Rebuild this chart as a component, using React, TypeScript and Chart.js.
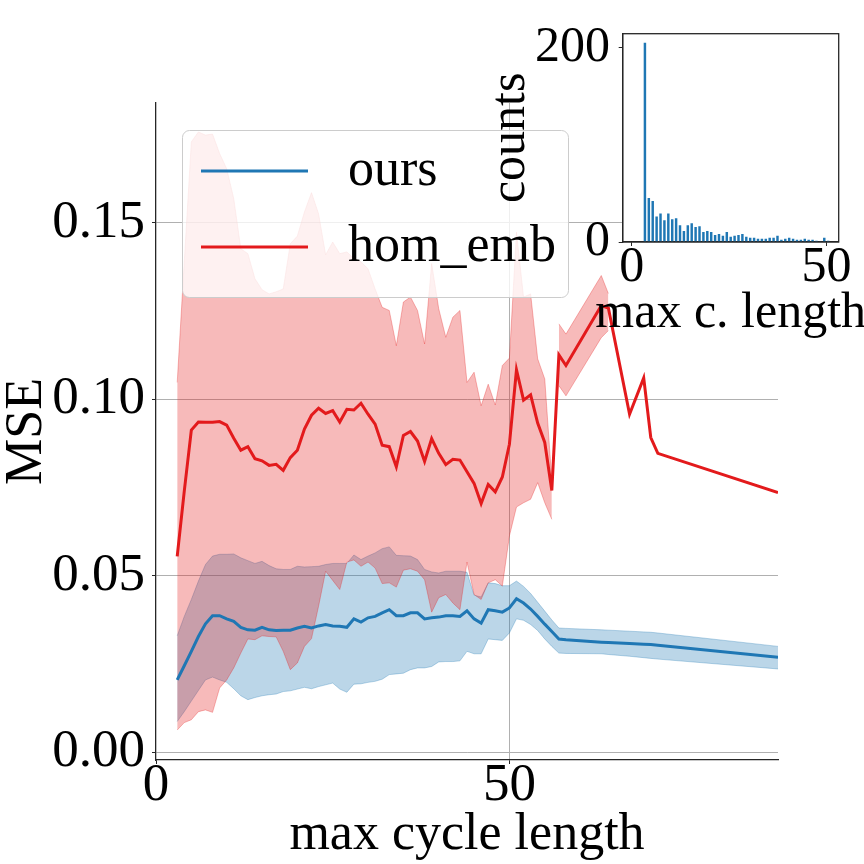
import { useEffect, useRef } from "react"
import { Chart, registerables } from "chart.js"

Chart.register(...registerables)

const FONT = "'Liberation Serif', 'Times New Roman', serif"

// main plot: x = max cycle length
const cycleLen = [
  3, 4, 5, 6, 7, 8, 9, 10, 11, 12, 13, 14, 15, 16, 17, 18, 19, 20, 21, 22,
  23, 24, 25, 26, 27, 28, 29, 30, 31, 32, 33, 34, 35, 36, 37, 38, 39, 40, 41, 42,
  43, 44, 45, 46, 47, 48, 49, 50, 51, 52, 53, 54, 55, 56, 57, 58, 63, 64, 67, 69,
  70, 71, 88,
]

const oursMean = [
  0.0205, 0.0245, 0.0286, 0.0328, 0.0364, 0.0387, 0.0387, 0.0378, 0.0371, 0.0354,
  0.0347, 0.0346, 0.0354, 0.0347, 0.0345, 0.0346, 0.0346, 0.0352, 0.0357, 0.0352,
  0.0358, 0.0362, 0.0358, 0.0357, 0.0354, 0.0378, 0.0369, 0.0381, 0.0385, 0.0395,
  0.0404, 0.0387, 0.0387, 0.0395, 0.0395, 0.0378, 0.0381, 0.0383, 0.0387, 0.0387,
  0.0385, 0.0401, 0.0378, 0.0366, 0.0404, 0.0401, 0.0397, 0.0409, 0.0435, 0.0423,
  0.0406, 0.0385, 0.0363, 0.0342, 0.0321, 0.0319,
  0.0312, 0.0311, 0.0308, 0.0306, 0.0305, 0.0303, 0.0269,
]
const oursUpper = [
  0.0330, 0.0385, 0.0433, 0.0485, 0.0532, 0.0556, 0.0561, 0.0561, 0.0562, 0.0551,
  0.0543, 0.0535, 0.0541, 0.0529, 0.0520, 0.0518, 0.0518, 0.0527, 0.0525, 0.0526,
  0.0527, 0.0532, 0.0535, 0.0535, 0.0535, 0.0559, 0.0546, 0.0556, 0.0565, 0.0577,
  0.0582, 0.0558, 0.0557, 0.0556, 0.0546, 0.0518, 0.0511, 0.0508, 0.0513, 0.0513,
  0.0513, 0.0510, 0.0445, 0.0440, 0.0480, 0.0478, 0.0472, 0.0472, 0.0485, 0.0470,
  0.0450, 0.0425, 0.0400, 0.0375, 0.0352, 0.0351,
  0.0347, 0.0346, 0.0343, 0.0341, 0.0340, 0.0338, 0.0300,
]
const oursLower = [
  0.0087, 0.0115, 0.0145, 0.0175, 0.0205, 0.0213, 0.0205, 0.0198, 0.0180, 0.0160,
  0.0149, 0.0155, 0.0160, 0.0163, 0.0165, 0.0172, 0.0174, 0.0179, 0.0184, 0.0180,
  0.0186, 0.0191, 0.0196, 0.0179, 0.0170, 0.0193, 0.0194, 0.0198, 0.0201, 0.0207,
  0.0220, 0.0222, 0.0224, 0.0234, 0.0239, 0.0239, 0.0243, 0.0256, 0.0257, 0.0257,
  0.0259, 0.0286, 0.0279, 0.0279, 0.0321, 0.0319, 0.0317, 0.0338, 0.0378, 0.0374,
  0.0362, 0.0345, 0.0321, 0.0300, 0.0281, 0.0280,
  0.0279, 0.0277, 0.0272, 0.0268, 0.0266, 0.0264, 0.0236,
]

const homMean = [
  0.0555, 0.0740, 0.0913, 0.0936, 0.0935, 0.0935, 0.0937, 0.0927, 0.0890, 0.0856,
  0.0866, 0.0832, 0.0826, 0.0813, 0.0816, 0.0799, 0.0835, 0.0856, 0.0916, 0.0955,
  0.0975, 0.0960, 0.0968, 0.0936, 0.0972, 0.0970, 0.0989, 0.0958, 0.0930, 0.0870,
  0.0866, 0.0809, 0.0898, 0.0909, 0.0882, 0.0824, 0.0889, 0.0847, 0.0815, 0.0830,
  0.0828, 0.0795, 0.0762, 0.0705, 0.0759, 0.0738, 0.0780, 0.0873, 0.1084, 0.0998,
  0.1013, 0.0933, 0.0878, 0.0742, 0.1126, 0.1096,
  0.1266, 0.1259, 0.0958, 0.1061, 0.0892, 0.0847, 0.0736,
]

// hom_emb band only exists up to 64, broken between 56 and 57
const homBandLen = [
  3, 4, 5, 6, 7, 8, 9, 10, 11, 12, 13, 14, 15, 16, 17, 18, 19, 20, 21, 22,
  23, 24, 25, 26, 27, 28, 29, 30, 31, 32, 33, 34, 35, 36, 37, 38, 39, 40, 41, 42,
  43, 44, 45, 46, 47, 48, 49, 50, 51, 52, 53, 54, 55, 56, 57, 58, 63, 64,
]
const homBandGapAfter = 56
const homUpper = [
  0.1048, 0.1390, 0.1730, 0.1758, 0.1749, 0.1752, 0.1697, 0.1654, 0.1569, 0.1427,
  0.1413, 0.1342, 0.1311, 0.1299, 0.1305, 0.1313, 0.1441, 0.1463, 0.1531, 0.1586,
  0.1526, 0.1410, 0.1446, 0.1413, 0.1418, 0.1399, 0.1390, 0.1370, 0.1313, 0.1261,
  0.1252, 0.1152, 0.1276, 0.1290, 0.1252, 0.1157, 0.1385, 0.1257, 0.1176, 0.1233,
  0.1252, 0.1048, 0.1077, 0.0982, 0.1043, 0.0984, 0.1096, 0.1117, 0.1474, 0.1290,
  0.1299, 0.1115, 0.1058, 0.0770, 0.1214, 0.1185,
  0.1351, 0.1300,
]
const homLower = [
  0.0063, 0.0084, 0.0092, 0.0115, 0.0120, 0.0113, 0.0182, 0.0205, 0.0239, 0.0281,
  0.0321, 0.0319, 0.0330, 0.0328, 0.0327, 0.0286, 0.0234, 0.0253, 0.0300, 0.0322,
  0.0414, 0.0513, 0.0487, 0.0461, 0.0539, 0.0545, 0.0527, 0.0539, 0.0522, 0.0478,
  0.0480, 0.0468, 0.0516, 0.0520, 0.0513, 0.0489, 0.0397, 0.0438, 0.0447, 0.0423,
  0.0404, 0.0539, 0.0447, 0.0433, 0.0480, 0.0489, 0.0471, 0.0613, 0.0695, 0.0707,
  0.0717, 0.0764, 0.0707, 0.0660, 0.1039, 0.1010,
  0.1175, 0.1195,
]

const xTicks = [0, 50]
const yTicks = [0, 0.05, 0.1, 0.15]

// inset histogram
const histLen = [
  3, 4, 5, 6, 7, 8, 9, 10, 11, 12, 13, 14, 15, 16, 17, 18, 19, 20, 21, 22,
  23, 24, 25, 26, 27, 28, 29, 30, 31, 32, 33, 34, 35, 36, 37, 38, 39, 40, 41, 42,
  43, 44, 45, 46, 47, 48, 49, 50,
]
const histCount = [
  205, 45, 42, 26, 29, 22, 29, 23, 24, 17, 11, 17, 19, 15, 16, 10, 11, 10, 7, 8,
  6, 10, 5, 6, 7, 8, 5, 4, 4, 3, 3, 3, 4, 4, 6, 2, 3, 4, 3, 2,
  2, 3, 2, 2, 1, 0, 4, 1,
]
const histXTicks = [0, 50]
const histYTicks = [0, 200]
const histXLabel = "max c. length"

const BLUE = "#1f77b4"
const RED = "#e31a1c"
const BLUE_BAND = "rgba(31,119,180,0.3)"
const RED_BAND = "rgba(227,26,28,0.3)"
const AXIS = "#262626"

const pts = (xs: number[], ys: number[], gapAfter?: number) => {
  const out: { x: number; y: number | null }[] = []
  xs.forEach((x, i) => {
    out.push({ x, y: ys[i] })
    if (x === gapAfter) out.push({ x: x + 0.5, y: null })
  })
  return out
}

const boxLegend = {
  id: "boxLegend",
  afterDraw(chart: any) {
    const ctx = chart.ctx
    const entries = chart.data.datasets.slice(0, 2)
    ctx.save()
    ctx.beginPath()
    ctx.roundRect(182.5, 130.5, 386, 167, 7)
    ctx.fillStyle = "rgba(255,255,255,0.8)"
    ctx.fill()
    ctx.strokeStyle = "#cccccc"
    ctx.lineWidth = 1
    ctx.stroke()
    entries.forEach((d: any, i: number) => {
      const y = 171 + i * 76
      ctx.beginPath()
      ctx.moveTo(201, y)
      ctx.lineTo(308, y)
      ctx.strokeStyle = d.borderColor
      ctx.lineWidth = 3
      ctx.stroke()
      ctx.fillStyle = "#000"
      ctx.font = `52px ${FONT}`
      ctx.textBaseline = "middle"
      ctx.textAlign = "left"
      ctx.fillText(d.label, 348, y)
    })
    ctx.restore()
  },
}

// white axes face, full box, and an x label that may run past the axes width
const insetFrame = {
  id: "insetFrame",
  beforeDraw(chart: any) {
    const { ctx, chartArea: a } = chart
    ctx.save()
    ctx.fillStyle = "#fff"
    ctx.fillRect(a.left, a.top, a.right - a.left, a.bottom - a.top)
    ctx.restore()
  },
  afterDraw(chart: any) {
    const { ctx, chartArea: a } = chart
    ctx.save()
    ctx.strokeStyle = AXIS
    ctx.lineWidth = 1.3
    ctx.strokeRect(a.left, a.top, a.right - a.left, a.bottom - a.top)
    ctx.fillStyle = "#000"
    ctx.font = `50px ${FONT}`
    ctx.textAlign = "center"
    ctx.textBaseline = "middle"
    ctx.fillText(histXLabel, (a.left + a.right) / 2, a.bottom + 72)
    ctx.restore()
  },
}

const tickFont = { family: FONT, size: 53, lineHeight: 0.82 }
const titleFont = { family: FONT, size: 52, lineHeight: 1 }
const insetFont = { family: FONT, size: 50, lineHeight: 1 }

export default function App() {
  const mainRef = useRef<HTMLCanvasElement>(null)
  const insetRef = useRef<HTMLCanvasElement>(null)

  useEffect(() => {
    if (!mainRef.current || !insetRef.current) return

    const main = new Chart(mainRef.current, {
      type: "line",
      data: {
        datasets: [
          { label: "ours", data: pts(cycleLen, oursMean), borderColor: BLUE, borderWidth: 3, fill: false, order: 0 },
          { label: "hom_emb", data: pts(cycleLen, homMean), borderColor: RED, borderWidth: 3, fill: false, order: 1 },
          {
            label: "hom_up", data: pts(homBandLen, homUpper, homBandGapAfter),
            borderColor: RED_BAND, borderWidth: 1, backgroundColor: RED_BAND, fill: "+1", order: 2,
          },
          {
            label: "hom_lo", data: pts(homBandLen, homLower, homBandGapAfter),
            borderColor: RED_BAND, borderWidth: 1, fill: false, order: 3,
          },
          {
            label: "ours_up", data: pts(cycleLen, oursUpper),
            borderColor: BLUE_BAND, borderWidth: 1, backgroundColor: BLUE_BAND, fill: "+1", order: 4,
          },
          {
            label: "ours_lo", data: pts(cycleLen, oursLower),
            borderColor: BLUE_BAND, borderWidth: 1, fill: false, order: 5,
          },
        ] as any,
      },
      options: {
        animation: false,
        responsive: false,
        spanGaps: false,
        layout: { padding: { top: 103, right: 86, left: 0, bottom: 0 } },
        elements: { point: { radius: 0 }, line: { tension: 0 } },
        plugins: { legend: { display: false }, tooltip: { enabled: false } },
        scales: {
          x: {
            type: "linear",
            min: 0,
            max: 88,
            afterBuildTicks: (s: any) => { s.ticks = xTicks.map((v) => ({ value: v })) },
            afterFit: (s: any) => { s.height = 104 },
            grid: {
              color: (c: any) => (c.tick && c.tick.value === 0 ? "rgba(0,0,0,0)" : "#b0b0b0"),
              lineWidth: 1,
              tickColor: AXIS,
              tickLength: 4,
            },
            border: { color: AXIS, width: 1.3 },
            ticks: { font: tickFont, color: "#000", padding: 0, maxRotation: 0 },
            title: {
              display: true, text: "max cycle length", color: "#000",
              font: titleFont, padding: { top: 0, bottom: 3 },
            },
          },
          y: {
            min: -0.0022,
            max: 0.184,
            afterBuildTicks: (s: any) => { s.ticks = yTicks.map((v) => ({ value: v })) },
            afterFit: (s: any) => { s.width = 156 },
            grid: { color: "#b0b0b0", lineWidth: 1, tickColor: AXIS, tickLength: 4 },
            border: { color: AXIS, width: 1.3 },
            ticks: {
              font: { family: FONT, size: 53, lineHeight: 1 }, color: "#000", padding: 7,
              callback: (v: any) => Number(v).toFixed(2),
            },
            title: {
              display: true, text: "MSE", color: "#000",
              font: titleFont, padding: { top: 1, bottom: 0 },
            },
          },
        },
      },
      plugins: [boxLegend],
    })

    const inset = new Chart(insetRef.current, {
      type: "bar",
      data: {
        datasets: [{
          label: "counts",
          data: histLen.map((l, i) => ({ x: l + 0.4, y: histCount[i] })),
          backgroundColor: BLUE,
          borderWidth: 0,
          barThickness: 1.8,
        }] as any,
      },
      options: {
        animation: false,
        responsive: false,
        layout: { padding: { top: 26, right: 25.3, left: 0, bottom: 0 } },
        plugins: { legend: { display: false }, tooltip: { enabled: false } },
        scales: {
          x: {
            type: "linear",
            min: -2.3,
            max: 53.1,
            offset: false,
            afterBuildTicks: (s: any) => { s.ticks = histXTicks.map((v) => ({ value: v })) },
            afterFit: (s: any) => { s.height = 98 },
            grid: { offset: false, drawOnChartArea: false, tickColor: AXIS, tickLength: 4 },
            border: { color: AXIS, width: 1.3 },
            ticks: { font: { ...insetFont, lineHeight: 0.82 }, color: "#000", padding: 1.5, maxRotation: 0 },
          },
          y: {
            min: 0,
            max: 214.6,
            afterBuildTicks: (s: any) => { s.ticks = histYTicks.map((v) => ({ value: v })) },
            afterFit: (s: any) => { s.width = 142.7 },
            grid: { drawOnChartArea: false, tickColor: AXIS, tickLength: 4 },
            border: { color: AXIS, width: 1.3 },
            ticks: { font: insetFont, color: "#000", padding: 8.7 },
            title: {
              display: true, text: "counts", color: "#000",
              font: insetFont, padding: { top: 6, bottom: 0 },
            },
          },
        },
      },
      plugins: [insetFrame],
    })

    return () => {
      main.destroy()
      inset.destroy()
    }
  }, [])

  return (
    <div style={{ position: "absolute", left: 0, top: 0, width: 864, height: 864, background: "#fff" }}>
      <canvas ref={mainRef} width={864} height={864} style={{ position: "absolute", left: 0, top: 0 }} />
      <canvas ref={insetRef} width={384} height={340} style={{ position: "absolute", left: 480, top: 0 }} />
    </div>
  )
}
